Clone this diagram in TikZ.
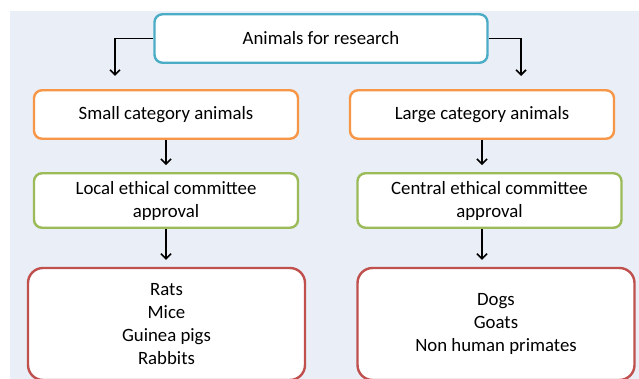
\documentclass[tikz,border=0pt]{standalone}
\usepackage{fontspec}
\setmainfont{Carlito}
\usetikzlibrary{arrows.meta}

\definecolor{bgblue}{RGB}{234,239,247}
\definecolor{topblue}{RGB}{75,172,198}
\definecolor{catorange}{RGB}{247,150,70}
\definecolor{ethgreen}{RGB}{155,187,89}
\definecolor{listred}{RGB}{192,80,77}

\begin{document}
\begin{tikzpicture}[x=1pt, y=-1pt,
box/.style={rectangle, draw, rounded corners=8pt, line width=2.4pt, fill=white,
  align=center, inner sep=0pt, font=\fontsize{18.8}{23}\selectfont},
topbox/.style={box, draw=topblue, minimum width=333pt, minimum height=48.5pt},
catbox/.style={box, draw=catorange, minimum width=264pt, minimum height=48.5pt},
ethbox/.style={box, draw=ethgreen, minimum width=264pt, minimum height=54.5pt},
listbox/.style={box, draw=listred, rounded corners=15pt, minimum width=277pt, minimum height=112pt},
arrow/.style={line width=1.6pt, -{Straight Barb[length=5pt,width=10pt]}}]

%% local variables
\def \W {639}
\def \H {379}

%% page and background
\clip (0,0) rectangle (\W,\H);
\fill[white] (0,0) rectangle (\W,\H);
\fill[bgblue] (10,11) rectangle (\W,\H);

%% place all boxes
\node[topbox] (research) at (321,38.5) {Animals for research};

\node[catbox] (small) at (166,114.5) {Small category animals};
\node[catbox] (large) at (482,114.5) {Large category animals};

\node[ethbox] (local) at (166,200.5) {Local ethical committee\\approval};
\node[ethbox] (central) at (489.5,200.5) {Central ethical committee\\approval};

\node[listbox] (smalllist) at (166.5,324) {Rats\\Mice\\Guinea pigs\\Rabbits};
\node[listbox] (largelist) at (496,324) {Dogs\\Goats\\Non human primates};

%% free ends of the elbow arrows
\coordinate (L) at (115,76);
\coordinate (R) at (521,76);

%% place all arrows
\draw[arrow] (research.west) -| (L);
\draw[arrow] (research.east) -| (R);
\draw[arrow, shorten >=7pt] (small) -- (small |- local.north);
\draw[arrow, shorten >=7pt] (large) -- (large |- central.north);
\draw[arrow, shorten >=7pt] (local) -- (local |- smalllist.north);
\draw[arrow, shorten >=7pt] (central.south -| large) -- (large |- largelist.north);

\end{tikzpicture}
\end{document}
